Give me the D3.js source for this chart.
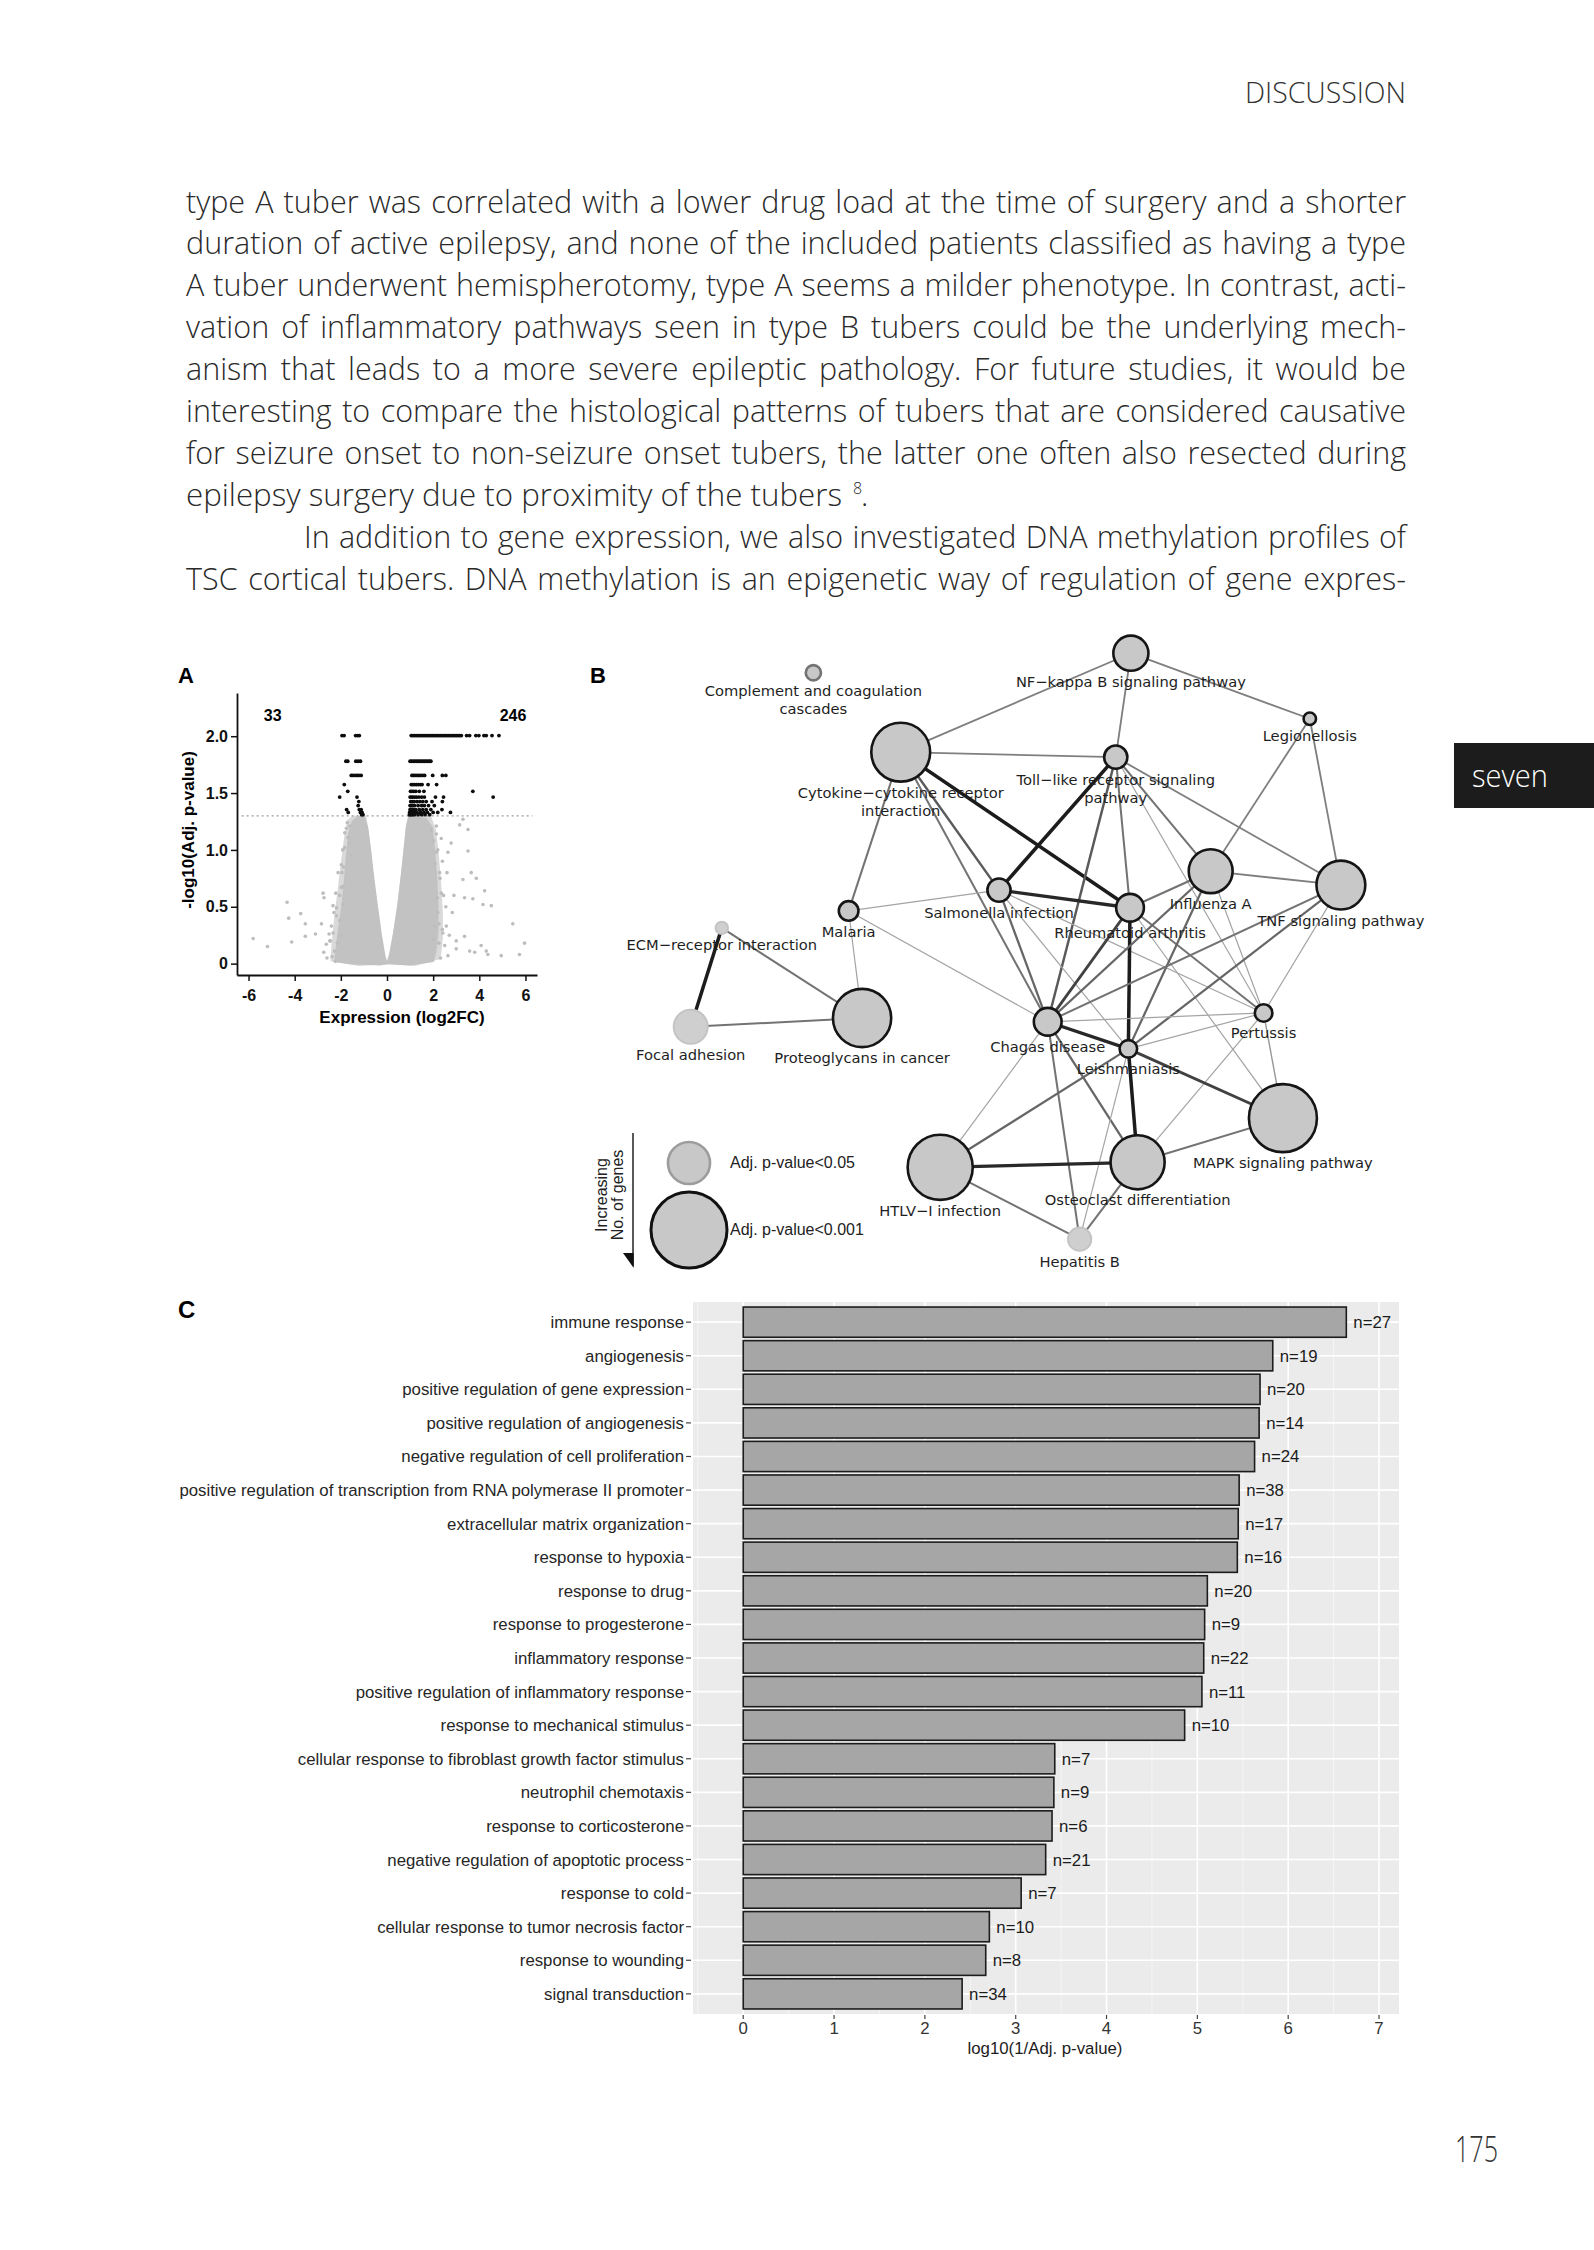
<!DOCTYPE html>
<html><head><meta charset="utf-8">
<script src="https://cdn.jsdelivr.net/npm/d3@7"></script>
<style>body{margin:0;background:#fff}</style>
</head><body>
<svg id="page" width="1594" height="2250"></svg>
<script>
// ================= DATA =================
const bodyLines = [
 "type A tuber was correlated with a lower drug load at the time of surgery and a shorter",
 "duration of active epilepsy, and none of the included patients classified as having a type",
 "A tuber underwent hemispherotomy, type A seems a milder phenotype. In contrast, acti-",
 "vation of inflammatory pathways seen in type B tubers could be the underlying mech-",
 "anism that leads to a more severe epileptic pathology. For future studies, it would be",
 "interesting to compare the histological patterns of tubers that are considered causative",
 "for seizure onset to non-seizure onset tubers, the latter one often also resected during",
 "epilepsy surgery due to proximity of the tubers",
 "In addition to gene expression, we also investigated DNA methylation profiles of",
 "TSC cortical tubers. DNA methylation is an epigenetic way of regulation of gene expres-"
];

// Panel A: volcano plot
const volcanoCounts = ["33", "246"];
const volXTicks = [-6, -4, -2, 0, 2, 4, 6];
const volYTicks = [0, 0.5, 1.0, 1.5, 2.0];
const sigThreshold = 1.3;
const sigRowY = [2.006, 1.78, 1.655, 1.575, 1.515, 1.465, 1.425, 1.39, 1.355, 1.33, 1.31];
const sigRowX = [
 [-1.95,-1.86,-1.36,-1.27,-1.2,1.05,1.12,1.19,1.26,1.33,1.40,1.47,1.54,1.61,1.68,1.75,1.82,1.89,1.96,2.03,2.10,2.17,2.24,2.31,2.38,2.45,2.52,2.59,2.66,2.73,2.80,2.87,2.94,3.01,3.08,3.15,3.22,3.45,3.58,3.85,3.98,4.2,4.3,4.55,4.85],
 [-1.78,-1.7,-1.35,-1.25,-1.15,1.0,1.07,1.14,1.21,1.28,1.35,1.42,1.49,1.56,1.63,1.7,1.77,1.84,1.9],
 [-1.55,-1.48,-1.38,-1.3,-1.22,-1.12,1.08,1.15,1.22,1.3,1.38,1.46,1.55,1.63,1.98,2.4,2.55],
 [-1.85,1.05,1.12,1.2,1.28,1.36,1.45,1.52,1.78,2.15],
 [-1.7,1.02,1.08,1.16,1.25,1.4,1.6,3.72],
 [-2.05,-1.3,1.0,1.06,1.12,1.2,1.28,1.38,1.5,1.62,2.1,2.45,4.6],
 [-1.22,1.03,1.1,1.18,1.3,1.42,1.55,1.7,1.95,2.4],
 [-1.25,1.0,1.05,1.12,1.2,1.35,1.5,1.62,1.8,2.05],
 [-1.75,-1.2,-1.12,1.0,1.04,1.1,1.15,1.25,1.4,1.55,1.7,1.9,2.38],
 [-1.68,-1.15,-1.08,0.98,1.02,1.08,1.14,1.2,1.3,1.45,1.6,1.75,2.0,2.2,2.75],
 [-1.1,-1.04,0.97,1.0,1.06,1.12,1.2,1.35,1.5,1.65,1.85]
];
const nsPoints = [
 [-5.80,0.22],[-5.18,0.15],[-4.33,0.54],[-4.26,0.40],[-4.13,0.19],[-3.74,0.44],[-3.54,0.35],[-3.54,0.24],
 [-3.10,0.26],[-2.84,0.35],[-2.77,0.62],[-2.73,0.58],[-2.51,0.26],[-2.34,0.51],[-2.24,0.02],[-2.74,0.10],
 [-2.63,0.17],[-2.41,0.33],[-2.19,0.42],[-1.98,0.87],[-1.95,0.80],[-1.90,0.68],[-1.83,1.02],[-1.76,1.19],
 [-1.69,1.11],[-1.62,1.06],[-2.05,0.60],[-2.30,0.45],[-2.45,0.20],[-2.60,0.05],[-2.00,0.25],[-1.92,1.0],
 [-2.12,0.80],[-1.98,0.67],[-1.90,0.52],[-2.19,0.49],[-2.34,0.27],[-2.48,0.20],[-2.27,0.11],[-1.83,1.15],
 [-1.62,1.21],[-1.54,0.95],[-2.05,0.38],[-2.15,0.18],[-1.88,0.85],[-1.72,1.24],[-2.38,0.06],[-2.22,0.62],
 [2.64,0.98],[2.78,1.06],[2.83,0.45],[2.57,0.33],[3.00,0.20],[3.15,1.22],[3.29,1.27],[3.51,1.18],
 [3.51,0.99],[3.29,0.74],[3.36,0.58],[3.65,0.80],[3.87,0.75],[3.72,0.57],[4.23,0.64],[4.16,0.52],
 [3.36,0.24],[3.58,0.11],[3.80,0.10],[4.08,0.16],[4.30,0.11],[4.37,0.08],[4.52,0.51],[4.95,0.07],
 [5.45,0.35],[5.74,0.08],[5.96,0.18],[2.14,1.21],[2.50,0.16],[2.64,0.07],[3.00,0.13],[2.40,0.90],
 [2.45,0.60],[2.30,0.75],[2.35,1.10],[2.55,0.50],[2.70,0.25],[2.90,0.60],[2.25,0.35],[2.60,0.80],
 [2.20,1.00],[2.40,0.30],[2.14,0.98],[2.28,0.80],[2.35,0.62],[2.20,0.45],[2.06,0.33],[1.99,0.21],
 [2.42,0.27],[2.14,1.14],[1.92,1.17],[2.25,0.18],[2.32,0.05],[2.08,0.88],[2.18,0.58],[2.02,1.08]
];
const cloudLeftOuter = [[-2.45,0.02],[-2.4,0.18],[-2.28,0.42],[-2.12,0.68],[-1.98,0.92],[-1.85,1.12],[-1.72,1.26],[-1.5,1.3],[-0.9,1.3],[-0.75,1.1],[-0.6,0.8],[-0.45,0.52],[-0.28,0.26],[-0.12,0.07],[0,0],[-1.2,-0.02]];
const cloudRightOuter = [[0,0],[0.1,0.07],[0.28,0.28],[0.45,0.52],[0.6,0.78],[0.72,1.02],[0.82,1.22],[0.92,1.3],[1.9,1.3],[2.12,1.18],[2.25,0.95],[2.35,0.7],[2.42,0.45],[2.42,0.22],[2.32,0.04],[1.2,-0.02]];
const cloudLeft = [[-2.25,0.02],[-2.2,0.12],[-2.1,0.3],[-1.95,0.5],[-1.85,0.7],[-1.75,0.95],[-1.65,1.15],[-1.5,1.25],[-1.25,1.29],[-1.0,1.29],[-0.85,1.2],[-0.72,1.0],[-0.58,0.75],[-0.42,0.5],[-0.25,0.25],[-0.1,0.07],[0,0],[-0.3,-0.01],[-1.5,0.0]];
const cloudRight = [[0,0],[0.12,0.08],[0.3,0.28],[0.48,0.52],[0.62,0.76],[0.75,1.0],[0.85,1.2],[0.95,1.29],[1.3,1.29],[1.7,1.27],[1.95,1.2],[2.05,1.0],[2.15,0.75],[2.2,0.5],[2.2,0.28],[2.1,0.1],[2.0,0.02],[1.0,-0.01]];

// Panel B: pathway network
const nodeNames = ["Complement and coagulation\ncascades","Cytokine\u2212cytokine receptor\ninteraction","Malaria","ECM\u2212receptor interaction","Salmonella infection","Proteoglycans in cancer","Focal adhesion","HTLV\u2212I infection","NF\u2212kappa B signaling pathway","Legionellosis","Toll\u2212like receptor signaling\npathway","Influenza A","TNF signaling pathway","Rheumatoid arthritis","Pertussis","Chagas disease","Leishmaniasis","MAPK signaling pathway","Osteoclast differentiation","Hepatitis B"];
const nodeX = [25.4,35.8,29.6,14.5,47.5,31.2,10.8,40.5,63.2,84.5,61.4,72.7,88.2,63.1,79.0,53.3,62.9,81.3,64.0,57.1];
const nodeY = [5.2,17.8,43.0,45.7,39.7,60.0,61.4,83.7,2.1,12.5,18.6,36.7,38.9,42.5,59.2,60.6,64.9,75.9,82.9,95.1];
const nodeGenes = [3,45,5,2,7,44,15,55,16,2,7,25,31,10,4,10,4,60,38,7];
const nodeP = [0.005,0.0005,0.0005,0.03,0.0005,0.0005,0.03,0.0005,0.0005,0.0005,0.0005,0.0005,0.0005,0.0005,0.0005,0.0005,0.0005,0.0005,0.0005,0.03];
const networkEdges = [
 [1,8,0.45],[1,10,0.45],[1,13,0.85],[1,4,0.6],[1,2,0.5],[1,15,0.5],
 [2,4,0.3],[2,5,0.3],[2,15,0.3],
 [3,6,0.85],[3,5,0.5],[6,5,0.5],
 [8,10,0.45],[8,9,0.45],[9,11,0.45],[9,12,0.45],
 [10,12,0.45],[10,11,0.5],[10,14,0.3],[10,13,0.5],[10,15,0.6],[10,4,0.85],
 [4,13,0.8],[4,15,0.55],[4,16,0.3],[4,14,0.3],
 [13,11,0.5],[13,16,0.85],[13,15,0.7],[13,14,0.5],[13,17,0.3],
 [11,12,0.45],[11,15,0.55],[11,16,0.55],[11,14,0.3],
 [12,15,0.5],[12,16,0.55],[12,14,0.3],
 [14,15,0.3],[14,16,0.3],[14,17,0.35],[14,18,0.3],
 [15,16,0.8],[15,18,0.55],[15,19,0.5],[15,7,0.3],
 [16,17,0.7],[16,7,0.55],[16,19,0.3],[16,18,0.85],
 [18,17,0.5],[18,7,0.8],[18,19,0.5],[7,19,0.5]
];
const legendGenes = [23, 75];
const legendLabels = ["Adj. p-value<0.05", "Adj. p-value<0.001"];

// Panel C: GO terms bar chart
const goTerms = ["immune response","angiogenesis","positive regulation of gene expression","positive regulation of angiogenesis","negative regulation of cell proliferation","positive regulation of transcription from RNA polymerase II promoter","extracellular matrix organization","response to hypoxia","response to drug","response to progesterone","inflammatory response","positive regulation of inflammatory response","response to mechanical stimulus","cellular response to fibroblast growth factor stimulus","neutrophil chemotaxis","response to corticosterone","negative regulation of apoptotic process","response to cold","cellular response to tumor necrosis factor","response to wounding","signal transduction"];
const goValues = [6.64,5.83,5.69,5.68,5.63,5.46,5.45,5.44,5.11,5.08,5.07,5.05,4.86,3.43,3.42,3.40,3.33,3.06,2.71,2.67,2.41];
const goCounts = [27,19,20,14,24,38,17,16,20,9,22,11,10,7,9,6,21,7,10,8,34];
const goXTicks = [0,1,2,3,4,5,6,7];
const goMinor = [-0.5,0.5,1.5,2.5,3.5,4.5,5.5,6.5];

// ================= DRAW =================
const svg = d3.select('#page');
svg.append('rect').attr('width',1594).attr('height',2250).attr('fill','#fff');
const LIGHT = "'Open Sans', sans-serif";
const ARIAL = "'Liberation Sans', Arial, sans-serif";
const DEJAVU = "'DejaVu Sans', sans-serif";

// header
svg.append('text').attr('x',1245).attr('y',103)
  .attr('font-family',LIGHT).attr('font-weight',300).attr('font-size',30).attr('fill','#333')
  .attr('textLength',161).attr('lengthAdjust','spacingAndGlyphs').text('DISCUSSION');

// body text (justified)
const bodyG = svg.append('g').attr('font-family',LIGHT).attr('font-weight',300)
  .attr('font-size',30.5).attr('fill','#2a2a2a');
function justified(words, x0, x1, y) {
  const t = bodyG.append('text').style('white-space','pre');
  const spans = words.map((w,i) => t.append('tspan').attr('y',0).text(i < words.length-1 ? w + ' ' : w));
  const widths = spans.map(s => s.node().getComputedTextLength());
  const total = d3.sum(widths), n = words.length, W = x1 - x0;
  let extra = (W - total) / (n - 1), sc = 1;
  if (extra < -2.5) { extra = -2.5; sc = W / (total + extra*(n-1)); }
  let cx = 0;
  spans.forEach((s,i) => { s.attr('x', cx); cx += widths[i] + extra; });
  t.attr('transform', `translate(${x0},${y}) scale(${sc},1)`);
}
bodyLines.forEach((line, i) => {
  const y = 212.5 + i * 41.9;
  if (i === 7) {
    const t = bodyG.append('text').attr('y',y);
    t.append('tspan').attr('x',186).attr('textLength',656).attr('lengthAdjust','spacingAndGlyphs').text(line);
    t.append('tspan').attr('x',853).attr('font-size',16).attr('dy',-12).text('8');
    t.append('tspan').attr('x',861).attr('dy',12).text('.');
  } else {
    justified(line.split(' '), i === 8 ? 304 : 186, 1406, y);
  }
});

// chapter tab
svg.append('rect').attr('x',1454).attr('y',743).attr('width',140).attr('height',65).attr('fill','#1c1c1c');
svg.append('text').attr('x',1472).attr('y',787).attr('font-family',LIGHT).attr('font-weight',300)
  .attr('font-size',32).attr('fill','#fff').attr('textLength',76).attr('lengthAdjust','spacingAndGlyphs').text('seven');
// page number
svg.append('text').attr('x',1455).attr('y',2162).attr('font-family',LIGHT).attr('font-weight',300)
  .attr('font-size',36).attr('fill','#333').attr('textLength',43).attr('lengthAdjust','spacingAndGlyphs').text('175');

// ---------- Panel A ----------
const gA = svg.append('g');
const xA = d3.scaleLinear().domain([-6.5,6.5]).range([237,537]);
const yA = d3.scaleLinear().domain([-0.1,2.38]).range([975,693]);
gA.append('text').attr('x',178).attr('y',683).attr('font-family',ARIAL).attr('font-weight','bold').attr('font-size',22).text('A');
const lineA = d3.line().x(d => xA(d[0])).y(d => yA(d[1]));
gA.selectAll('path.cloudo').data([cloudLeftOuter, cloudRightOuter]).join('path').attr('class','cloudo')
  .attr('d', d => lineA(d) + 'Z').attr('fill','#d9d9d9');
gA.selectAll('path.cloud').data([cloudLeft, cloudRight]).join('path').attr('class','cloud')
  .attr('d', d => lineA(d) + 'Z').attr('fill','#c2c2c2').attr('stroke','#c2c2c2').attr('stroke-width',1.5);
gA.selectAll('circle.ns').data(nsPoints).join('circle').attr('class','ns')
  .attr('cx', d => xA(d[0])).attr('cy', d => yA(d[1])).attr('r',1.8).attr('fill','#bdbdbd');
gA.append('line').attr('x1',xA(-6.3)).attr('x2',xA(6.3)).attr('y1',yA(sigThreshold)).attr('y2',yA(sigThreshold))
  .attr('stroke','#9a9a9a').attr('stroke-width',1.2).attr('stroke-dasharray','2,3');
const sigPts = [];
sigRowY.forEach((yv, i) => sigRowX[i].forEach(xv => sigPts.push([xv, yv])));
gA.selectAll('circle.sig').data(sigPts).join('circle').attr('class','sig')
  .attr('cx', d => xA(d[0])).attr('cy', d => yA(d[1])).attr('r',1.9).attr('fill','#0d0d0d');
const axYA = gA.append('g').attr('transform','translate(237,0)')
  .call(d3.axisLeft(yA).tickValues(volYTicks).tickFormat(d => d === 0 ? '0' : d.toFixed(1)).tickSize(6).tickSizeOuter(0));
const axXA = gA.append('g').attr('transform','translate(0,975)')
  .call(d3.axisBottom(xA).tickValues(volXTicks).tickFormat(d => String(d)).tickSize(6).tickSizeOuter(0));
[axYA, axXA].forEach(ax => {
  ax.select('.domain').attr('stroke','#111').attr('stroke-width',1.8);
  ax.selectAll('.tick line').attr('stroke','#111').attr('stroke-width',1.5);
  ax.selectAll('.tick text').attr('font-family',ARIAL).attr('font-weight','bold').attr('font-size',16).attr('fill','#111');
});
axXA.selectAll('.tick text').attr('dy','1.05em');
gA.append('text').attr('x',402).attr('y',1023).attr('text-anchor','middle').attr('font-family',ARIAL)
  .attr('font-weight','bold').attr('font-size',17).text('Expression (log2FC)');
gA.append('text').attr('transform','translate(194,830) rotate(-90)').attr('text-anchor','middle').attr('font-family',ARIAL)
  .attr('font-weight','bold').attr('font-size',17).text('-log10(Adj. p-value)');
gA.selectAll('text.cnt').data(volcanoCounts).join('text').attr('class','cnt')
  .attr('x', (d,i) => xA(i === 0 ? -4.95 : 5.46)).attr('y', yA(2.186) + 6).attr('text-anchor','middle')
  .attr('font-family',ARIAL).attr('font-weight','bold').attr('font-size',16).text(d => d);

// ---------- Panel B ----------
const gB = svg.append('g');
const xB = d3.scaleLinear().domain([0,100]).range([600,1440]);
const yB = d3.scaleLinear().domain([0,100]).range([640,1270]);
const rB = d3.scaleSqrt().domain([0,60]).range([0,34]);
const wB = d3.scaleLinear().domain([0.3,0.85]).range([1.2,3.5]);
const cB = d3.scaleLinear().domain([0.3,0.85]).range(['#a4a4a4','#1c1c1c']);
const strokeP = p => p < 0.001 ? '#151515' : (p < 0.01 ? '#727272' : '#c4c4c4');
const fillP = p => p < 0.01 ? '#c8c8c8' : '#cfcfcf';
gB.append('text').attr('x',590).attr('y',683).attr('font-family',ARIAL).attr('font-weight','bold').attr('font-size',22).text('B');
gB.selectAll('line.edge').data(networkEdges).join('line').attr('class','edge')
  .attr('x1', d => xB(nodeX[d[0]])).attr('y1', d => yB(nodeY[d[0]]))
  .attr('x2', d => xB(nodeX[d[1]])).attr('y2', d => yB(nodeY[d[1]]))
  .attr('stroke', d => cB(d[2])).attr('stroke-width', d => wB(d[2]));
const nodes = nodeNames.map((n,i) => ({name:n, x:nodeX[i], y:nodeY[i], g:nodeGenes[i], p:nodeP[i]}));
gB.selectAll('circle.node').data(nodes).join('circle').attr('class','node')
  .attr('cx', d => xB(d.x)).attr('cy', d => yB(d.y)).attr('r', d => rB(d.g))
  .attr('fill', d => fillP(d.p)).attr('stroke', d => strokeP(d.p)).attr('stroke-width', d => d.p < 0.01 ? 2.6 : 2);
const lbl = gB.selectAll('text.nl').data(nodes).join('text').attr('class','nl')
  .attr('font-family',DEJAVU).attr('font-size',14.7).attr('fill','#1e1e1e').attr('text-anchor','middle');
lbl.each(function(d) {
  const parts = d.name.split('\n');
  const t = d3.select(this);
  parts.forEach((p,k) => t.append('tspan').attr('x', xB(d.x)).attr('y', yB(d.y) + rB(d.g) + 16 + k*18).text(p));
});
// legend
gB.append('line').attr('x1',633).attr('x2',633).attr('y1',1133).attr('y2',1266).attr('stroke','#222').attr('stroke-width',1.5);
gB.append('path').attr('d','M623,1253L633.7,1253L633.7,1268Z').attr('fill','#111');
gB.append('text').attr('transform','translate(607,1195) rotate(-90)').attr('text-anchor','middle')
  .attr('font-family',ARIAL).attr('font-size',16).attr('fill','#222').text('Increasing');
gB.append('text').attr('transform','translate(623,1195) rotate(-90)').attr('text-anchor','middle')
  .attr('font-family',ARIAL).attr('font-size',16).attr('fill','#222').text('No. of genes');
const legY = [1163, 1230];
legendGenes.forEach((g,i) => {
  gB.append('circle').attr('cx',689).attr('cy',legY[i]).attr('r',rB(g)).attr('fill','#c8c8c8')
    .attr('stroke', i === 0 ? '#9c9c9c' : '#111').attr('stroke-width', i === 0 ? 2.6 : 3);
  gB.append('text').attr('x',730).attr('y',legY[i] + 5).attr('font-family',ARIAL).attr('font-size',16)
    .attr('fill','#222').text(legendLabels[i]);
});

// ---------- Panel C ----------
const gC = svg.append('g');
const xC = d3.scaleLinear().domain([-0.553,7.22]).range([693,1399]);
const yC = d3.scaleBand().domain(goTerms).range([1302,2014]).paddingInner(0.1).paddingOuter(0.15);
gC.append('text').attr('x',178).attr('y',1318).attr('font-family',ARIAL).attr('font-weight','bold').attr('font-size',24).text('C');
gC.append('rect').attr('x',693).attr('y',1302).attr('width',706).attr('height',712).attr('fill','#ebebeb');
gC.selectAll('line.minor').data(goMinor).join('line').attr('class','minor')
  .attr('x1', d => xC(d)).attr('x2', d => xC(d)).attr('y1',1302).attr('y2',2014).attr('stroke','#f7f7f7').attr('stroke-width',0.8);
gC.selectAll('line.major').data(goXTicks).join('line').attr('class','major')
  .attr('x1', d => xC(d)).attr('x2', d => xC(d)).attr('y1',1302).attr('y2',2014).attr('stroke','#fff').attr('stroke-width',1.6);
gC.selectAll('line.hmaj').data(goTerms).join('line').attr('class','hmaj')
  .attr('x1',693).attr('x2',1399).attr('y1', d => yC(d) + yC.bandwidth()/2).attr('y2', d => yC(d) + yC.bandwidth()/2)
  .attr('stroke','#fff').attr('stroke-width',1.6);
gC.selectAll('rect.bar').data(goTerms).join('rect').attr('class','bar')
  .attr('x', xC(0)).attr('y', d => yC(d)).attr('width', (d,i) => xC(goValues[i]) - xC(0)).attr('height', yC.bandwidth())
  .attr('fill','#a6a6a6').attr('stroke','#1c1c1c').attr('stroke-width',1.6);
gC.selectAll('text.n').data(goTerms).join('text').attr('class','n')
  .attr('x', (d,i) => xC(goValues[i]) + 7).attr('y', d => yC(d) + yC.bandwidth()/2 + 6)
  .attr('font-family',ARIAL).attr('font-size',16.8).attr('fill','#1c1c1c').text((d,i) => 'n=' + goCounts[i]);
gC.selectAll('text.yl').data(goTerms).join('text').attr('class','yl')
  .attr('x',684).attr('y', d => yC(d) + yC.bandwidth()/2 + 6).attr('text-anchor','end')
  .attr('font-family',ARIAL).attr('font-size',16.8).attr('fill','#262626').text(d => d);
gC.selectAll('line.yt').data(goTerms).join('line').attr('class','yt')
  .attr('x1',686).attr('x2',691).attr('y1', d => yC(d) + yC.bandwidth()/2).attr('y2', d => yC(d) + yC.bandwidth()/2)
  .attr('stroke','#444').attr('stroke-width',1.2);
gC.selectAll('line.xt').data(goXTicks).join('line').attr('class','xt')
  .attr('x1', d => xC(d)).attr('x2', d => xC(d)).attr('y1',2015).attr('y2',2019).attr('stroke','#444').attr('stroke-width',1.2);
gC.selectAll('text.xl').data(goXTicks).join('text').attr('class','xl')
  .attr('x', d => xC(d)).attr('y',2034).attr('text-anchor','middle')
  .attr('font-family',ARIAL).attr('font-size',16.8).attr('fill','#333').text(d => d);
gC.append('text').attr('x',1045).attr('y',2054).attr('text-anchor','middle').attr('font-family',ARIAL)
  .attr('font-size',16.8).attr('fill','#1c1c1c').text('log10(1/Adj. p-value)');
</script>
</body></html>
